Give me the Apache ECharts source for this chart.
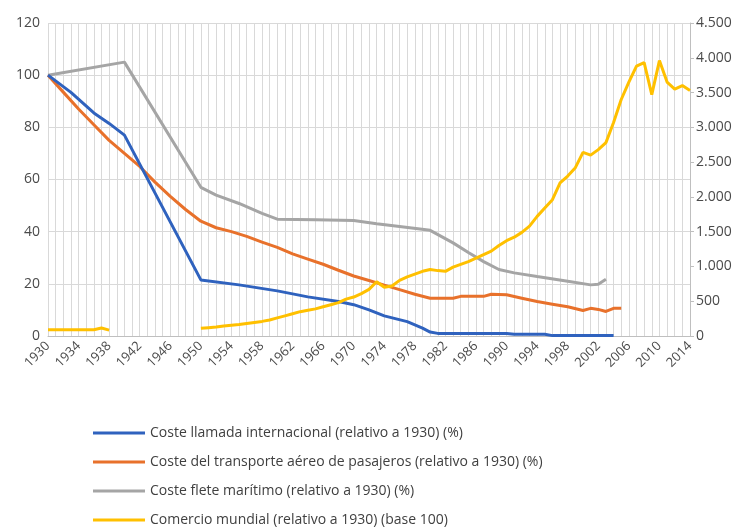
<!DOCTYPE html>
<html>
<head>
<meta charset="utf-8">
<script src="https://cdn.jsdelivr.net/npm/echarts@6/dist/echarts.min.js"></script>
<style>
  html, body { margin: 0; padding: 0; background: #fff; }
  #chart { width: 754px; height: 528px; }
</style>
</head>
<body>
<div id="chart"></div>
<script>
const years = [];
for (let y = 1930; y <= 2014; y++) years.push(String(y));

const leftTicks = [0, 20, 40, 60, 80, 100, 120];
const rightTicks = [0, 500, 1000, 1500, 2000, 2500, 3000, 3500, 4000, 4500];

const seriesNames = [
  "Coste llamada internacional (relativo a 1930) (%)",
  "Coste del transporte aéreo de pasajeros (relativo a 1930) (%)",
  "Coste flete marítimo (relativo a 1930) (%)",
  "Comercio mundial (relativo a 1930) (base 100)"
];

// [año, valor]
const llamada = [
  [1930, 100], [1933, 93.4], [1936, 85.5], [1938, 81.5], [1940, 77],
  [1950, 21.5], [1955, 19.6], [1960, 17.3], [1964, 15], [1968, 13.2],
  [1970, 12], [1972, 10], [1974, 7.7], [1977, 5.5], [1979, 3],
  [1980, 1.5], [1981, 1], [1990, 1], [1991, 0.65], [1995, 0.65],
  [1996, 0.15], [2004, 0.15]
];

const aereo = [
  [1930, 100], [1932, 93.5], [1934, 87], [1936, 81], [1938, 75],
  [1940, 70], [1942, 65], [1944, 59], [1946, 53.5], [1948, 48.5],
  [1950, 44], [1952, 41.5], [1954, 40], [1956, 38.2], [1958, 36],
  [1960, 34], [1962, 31.5], [1964, 29.5], [1966, 27.5], [1968, 25.2],
  [1970, 23], [1972, 21.3], [1974, 19.5], [1976, 17.8], [1978, 16],
  [1980, 14.5], [1983, 14.5], [1984, 15.2], [1987, 15.2], [1988, 16],
  [1990, 15.8], [1992, 14.5], [1994, 13.2], [1996, 12.2], [1998, 11.2],
  [2000, 9.8], [2001, 10.6], [2002, 10.2], [2003, 9.4], [2004, 10.6],
  [2005, 10.6]
];

const flete = [
  [1930, 100], [1940, 105], [1950, 57], [1952, 54], [1955, 50.8],
  [1958, 47], [1960, 44.8], [1965, 44.6], [1970, 44.3], [1973, 43],
  [1976, 42], [1980, 40.5], [1983, 35.7], [1985, 32], [1987, 28.5],
  [1989, 25.5], [1991, 24.2], [1994, 22.8], [1998, 21], [2001, 19.6],
  [2002, 19.8], [2003, 21.8]
];

const comercioA = [90, 90, 90, 90, 90, 90, 90, 115, 85]; // 1930-1938
const comercioB = [ // 1950-2014
  110, 120, 130, 145, 155, 165, 180, 195, 210, 230,
  260, 290, 320, 350, 370, 390, 420, 450, 480, 530,
  560, 610, 670, 780, 700, 720, 800, 850, 890, 930,
  955, 940, 930, 990, 1030, 1070, 1120, 1170, 1220, 1300,
  1370, 1420, 1490, 1580, 1720, 1840, 1960, 2200, 2300, 2420,
  2640, 2600, 2680, 2780, 3070, 3400, 3650, 3880, 3930, 3470,
  3960, 3650, 3550, 3600, 3530
];

function toFull(pairs) {
  const m = {};
  pairs.forEach(p => { m[p[0]] = p[1]; });
  return years.map(y => (m[y] === undefined ? null : m[y]));
}

const comercio = years.map(y => {
  const n = +y;
  if (n <= 1938) return comercioA[n - 1930];
  if (n >= 1950) return comercioB[n - 1950];
  return null;
});

const colors = ["#2F62BE", "#E8712B", "#A5A5A5", "#FFC000"];
const textColor = "#4a4a4a";
const gridColor = "#d9d9d9";

const chart = echarts.init(document.getElementById("chart"));

const fmtMiles = v => String(v).replace(/\B(?=(\d{3})+(?!\d))/g, ".");

chart.setOption({
  animation: false,
  color: colors,
  textStyle: { fontFamily: "Open Sans", color: textColor },
  grid: { left: 48, right: 64, top: 23, bottom: 192 },
  legend: {
    orient: "vertical",
    left: 93,
    top: 426,
    padding: 0,
    icon: "rect",
    itemWidth: 52,
    itemHeight: 3,
    itemGap: 15,
    textStyle: { fontSize: 14, lineHeight: 14, color: "#404040", fontFamily: "Open Sans" },
    data: seriesNames
  },
  xAxis: {
    type: "category",
    data: years,
    boundaryGap: false,
    axisLine: { lineStyle: { color: "#bfbfbf" } },
    axisTick: { show: false },
    axisLabel: { interval: 3, rotate: 45, fontSize: 13, color: textColor, margin: 8 },
    splitLine: { show: true, interval: 0, lineStyle: { color: gridColor } }
  },
  yAxis: [
    {
      type: "value",
      min: leftTicks[0],
      max: leftTicks[leftTicks.length - 1],
      interval: leftTicks[1] - leftTicks[0],
      axisLine: { show: false },
      axisTick: { show: false },
      axisLabel: { fontSize: 14, color: textColor, margin: 8 },
      splitLine: { lineStyle: { color: gridColor } }
    },
    {
      type: "value",
      position: "right",
      min: rightTicks[0],
      max: rightTicks[rightTicks.length - 1],
      interval: rightTicks[1] - rightTicks[0],
      axisLine: { show: true, lineStyle: { color: "#bfbfbf" } },
      axisTick: { show: true, length: 4, lineStyle: { color: "#bfbfbf" } },
      axisLabel: { fontSize: 14, color: textColor, margin: 6, formatter: fmtMiles },
      splitLine: { show: false }
    }
  ],
  series: [
    { name: seriesNames[0], type: "line", data: toFull(llamada), connectNulls: true,
      symbol: "none", lineStyle: { width: 3, color: colors[0] }, z: 4 },
    { name: seriesNames[1], type: "line", data: toFull(aereo), connectNulls: true,
      symbol: "none", lineStyle: { width: 3, color: colors[1] }, z: 3 },
    { name: seriesNames[2], type: "line", data: toFull(flete), connectNulls: true,
      symbol: "none", lineStyle: { width: 3, color: colors[2] }, z: 2 },
    { name: seriesNames[3], type: "line", yAxisIndex: 1, data: comercio, connectNulls: false,
      symbol: "none", lineStyle: { width: 3, color: colors[3] }, z: 5 }
  ]
});
</script>
</body>
</html>
